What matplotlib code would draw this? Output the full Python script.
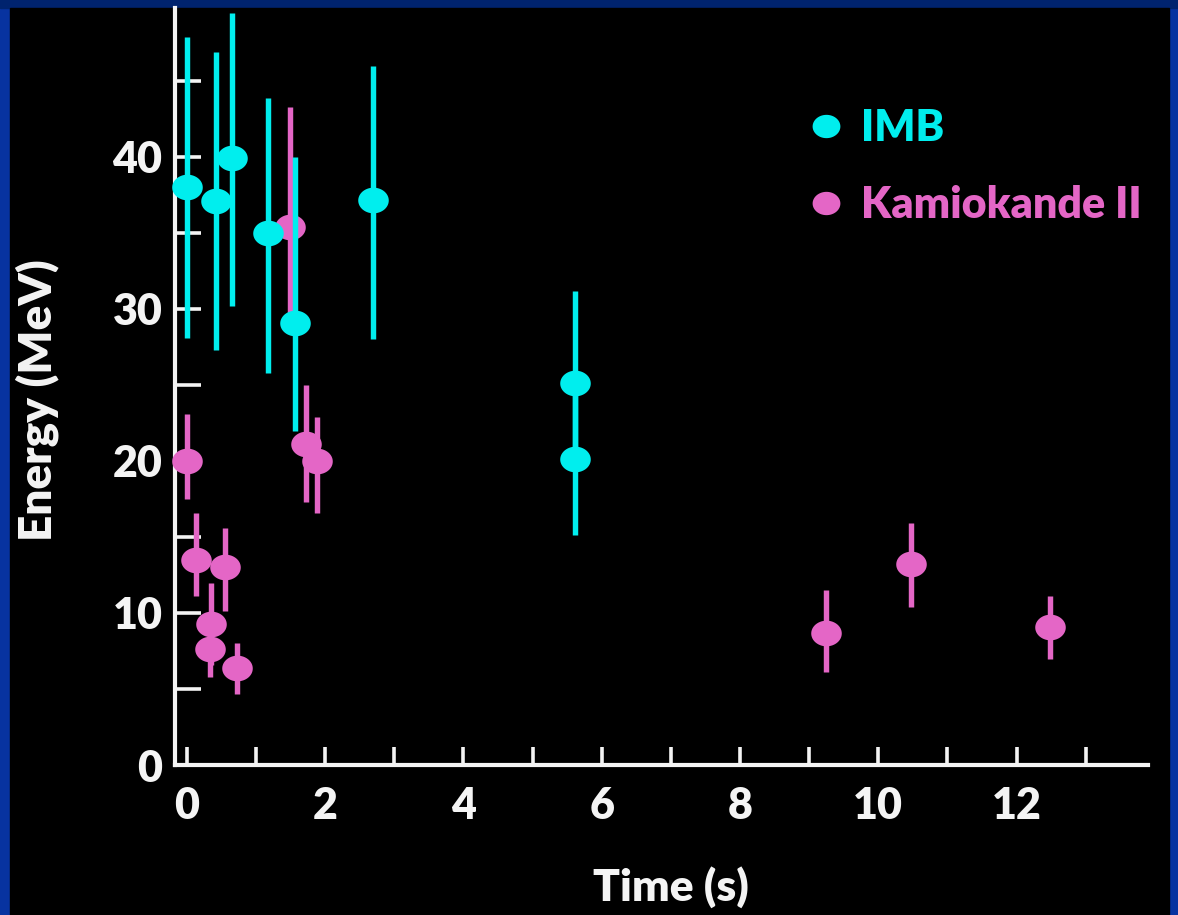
"""SN1987A neutrino burst: IMB and Kamiokande II events, energy vs time."""
import matplotlib

matplotlib.use("Agg")
import matplotlib.pyplot as plt  # noqa: E402
import numpy as np  # noqa: E402
from matplotlib.lines import Line2D  # noqa: E402
from matplotlib.patches import Rectangle  # noqa: E402

# IMB events (time in s, energy in MeV, lower / upper error)
imb_t = [0.0, 0.42, 0.66, 1.17, 1.57, 2.69, 5.61, 5.61]
imb_e = [38.0, 37.1, 39.9, 35.0, 29.1, 37.2, 25.1, 20.1]
imb_lo = [9.9, 9.8, 9.7, 9.2, 7.1, 9.2, 5.0, 5.0]
imb_hi = [9.9, 9.8, 9.6, 8.9, 10.9, 8.8, 6.1, 5.0]

# Kamiokande II events
kam_t = [0.0, 0.14, 0.33, 0.35, 0.55, 0.72, 1.49, 1.73, 1.89, 9.25, 10.47, 12.48]
kam_e = [20.0, 13.5, 7.6, 9.3, 13.0, 6.4, 35.4, 21.1, 20.0, 8.7, 13.2, 9.1]
kam_lo = [2.5, 2.4, 1.8, 2.7, 2.9, 1.7, 5.9, 3.8, 3.4, 2.6, 2.8, 2.1]
kam_hi = [3.1, 3.1, 2.2, 2.7, 2.6, 1.6, 7.9, 3.9, 2.9, 2.8, 2.7, 2.0]

x_major = [0, 2, 4, 6, 8, 10, 12]
x_minor = [1, 3, 5, 7, 9, 11, 13]
y_major = [0, 10, 20, 30, 40]
y_minor = [5, 15, 25, 35, 45]

CYAN = "#00eeee"
PINK = "#e466c6"
WHITE = "#f4f4f4"
WEIGHT = 800

plt.rcParams["font.family"] = ["Lato", "DejaVu Sans"]
plt.rcParams["font.weight"] = WEIGHT

# slightly flattened dot, like the original slide
theta = np.linspace(0, 2 * np.pi, 60)
ellipse = np.column_stack([np.cos(theta), 0.84 * np.sin(theta)])

fig = plt.figure(figsize=(11.78, 9.15), dpi=100, facecolor="#0733a0")
fig.patches.append(Rectangle((0, 1 - 8 / 915), 1, 8 / 915, transform=fig.transFigure,
                             color="#00236e", zorder=-5))
fig.patches.append(Rectangle((10 / 1178, 0), 1159 / 1178, 1 - 8 / 915,
                             transform=fig.transFigure, color="black", zorder=-5))

ax = fig.add_axes([175 / 1178, 150 / 915, 973 / 1178, 757 / 915])
ax.set_zorder(1)
ax.set_facecolor("black")


def draw_series(t, e, lo, hi, color, z):
    eb = ax.errorbar(t, e, yerr=[lo, hi], fmt="none", ecolor=color,
                     elinewidth=3.9, capsize=0, zorder=z)
    for ln in eb.lines[2]:
        ln.set_clip_on(False)
    ax.plot(t, e, ls="none", marker=ellipse, ms=22, color=color,
            markeredgewidth=0, zorder=z + 0.5, clip_on=False)


draw_series(kam_t, kam_e, kam_lo, kam_hi, PINK, 3)
draw_series(imb_t, imb_e, imb_lo, imb_hi, CYAN, 4)

ax.set_xlim(-0.17, 13.9)
ax.set_ylim(0.4, 49.8)

for side in ("top", "right"):
    ax.spines[side].set_visible(False)
for side in ("left", "bottom"):
    ax.spines[side].set_color(WHITE)
    ax.spines[side].set_linewidth(3.0)
    ax.spines[side].set_zorder(2)

ax.set_xticks(x_major)
ax.set_xticks(x_minor, minor=True)
ax.set_yticks(y_major)
ax.set_yticks(y_minor, minor=True)
ax.tick_params(axis="x", which="both", direction="in", length=13, width=2.6,
               color=WHITE, labelcolor=WHITE, labelsize=31, pad=15)
ax.tick_params(axis="y", which="both", direction="in", length=19, width=2.6,
               color=WHITE, labelcolor=WHITE, labelsize=31, pad=9)

ax.set_xlabel("Time (s)", color=WHITE, fontsize=32, fontweight=WEIGHT)
ax.set_ylabel("Energy (MeV)", color=WHITE, fontsize=33, fontweight=WEIGHT)
ax.xaxis.set_label_coords(0.51, -0.161)
ax.xaxis.label.set_va("center")
ax.yaxis.set_label_coords(-0.142, 0.482)
ax.yaxis.label.set_va("center")

handles = [
    Line2D([], [], ls="none", marker=ellipse, ms=20, color=CYAN, markeredgewidth=0),
    Line2D([], [], ls="none", marker=ellipse, ms=20, color=PINK, markeredgewidth=0),
]
ax.legend(handles, ["IMB", "Kamiokande II"], loc="upper left",
          bbox_to_anchor=(0.634, 0.896), frameon=False, labelcolor="linecolor",
          prop={"family": ["Lato", "DejaVu Sans"], "weight": WEIGHT, "size": 31},
          handlelength=0.6, handletextpad=0.5, labelspacing=0.85, borderpad=0)

fig.savefig("out.png", dpi=100, facecolor=fig.get_facecolor())
